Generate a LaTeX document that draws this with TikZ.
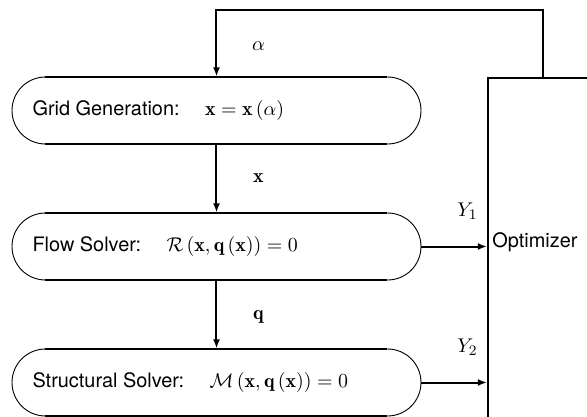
\documentclass[tikz,border=0pt,11pt]{standalone}
\usepackage{amsmath,amssymb}
\usepackage{fontspec}
\setsansfont{TeX Gyre Heros}
\usetikzlibrary{shapes.misc,positioning,calc,arrows.meta}

\begin{document}
\begin{tikzpicture}[x=0.55pt,y=-0.55pt,
    stage/.style={rounded rectangle, draw, line width=0.5pt,
      minimum width=409*0.55pt, minimum height=67*0.55pt, inner sep=0pt},
    conn/.style={line width=1.1pt, -{Latex[length=5pt,width=3.8pt]}},
    lbl/.style={font=\sffamily}]
  \clip (0,0) rectangle (587,416);
  % the three stages
  \node[stage] (grid) at (216.5,110.5) {};
  \node[stage] (flow) at (216.5,246.5) {};
  \node[stage] (struct) at (216.5,382.5) {};
  \foreach \s in {grid,flow,struct}{
    \draw[line width=1.1pt] ($(\s.north)+(-171,0)$) -- ($(\s.north)+(171,0)$);
    \draw[line width=1.1pt] ($(\s.south)+(-171,0)$) -- ($(\s.south)+(171,0)$);
  }
  \node[lbl,anchor=west] (gridtxt) at ($(grid.west)+(14,0)$)
    {Grid Generation:\quad\ $\mathbf{x}=\mathbf{x}\left(\alpha\right)$};
  \node[lbl,anchor=west] (flowtxt) at ($(flow.west)+(14,0)$)
    {Flow Solver:\quad\ $\mathcal{R}\left(\mathbf{x},\mathbf{q}\left(\mathbf{x}\right)\right)=0$};
  \node[lbl,anchor=west] (structtxt) at ($(struct.west)+(14,0)$)
    {Structural Solver:\quad\ $\mathcal{M}\left(\mathbf{x},\mathbf{q}\left(\mathbf{x}\right)\right)=0$};
  % optimizer
  \node[draw, line width=1.1pt, anchor=north west, minimum width=150*0.55pt,
    minimum height=400*0.55pt] (opt) at (487,77) {};
  \node[lbl] (opttxt) at (535,242) {Optimizer};
  %
  \draw[conn] (grid.south) -- (flow.north);
  \draw[conn] (flow.south) -- (struct.north);
  \draw[conn] (flow.east) -- (flow.east -| opt.west);
  \draw[conn] (struct.east) -- (struct.east -| opt.west);
  \draw[conn] ($(opt.north west)+(56,0)$) |- ($(grid.north)+(0,-67)$) -- (grid.north);
  % labels
  \node (alpha) at ($(grid.north)+(42,-30)$) {$\alpha$};
  \node (xlbl) at ($(grid.south)!0.5!(flow.north)+(42,0)$) {$\mathbf{x}$};
  \node (qlbl) at ($(flow.south)!0.5!(struct.north)+(42,2)$) {$\mathbf{q}$};
  \node (yone) at ($(flow.east)+(46,-35)$) {$Y_1$};
  \node (ytwo) at ($(struct.east)+(46,-35)$) {$Y_2$};
\end{tikzpicture}
\end{document}
